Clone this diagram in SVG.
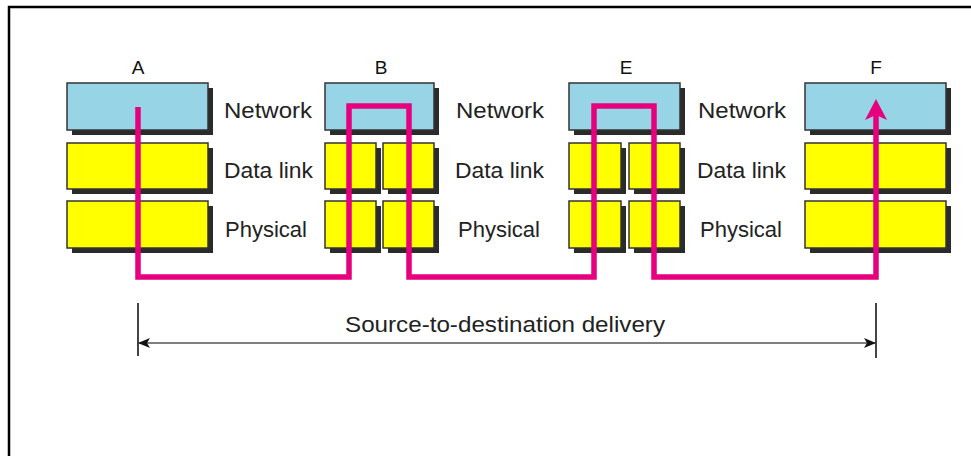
<svg xmlns="http://www.w3.org/2000/svg" width="971" height="456" viewBox="0 0 971 456">
<style>
.sh{fill:#2b2b2b}
.net{fill:#97d5e6;stroke:#333;stroke-width:1.5}
.yel{fill:#ffff00;stroke:#333;stroke-width:1.5}
.lbl{font-family:"Liberation Sans",Arial,sans-serif;font-size:22px;fill:#222}
.ttl{font-family:"Liberation Sans",Arial,sans-serif;font-size:19px;fill:#111;text-anchor:middle}
</style>
<defs>
<marker id="ah" markerWidth="12" markerHeight="10" refX="11" refY="5" orient="auto-start-reverse" markerUnits="userSpaceOnUse">
<path d="M0,0 L12,5 L0,10 L3,5 Z" fill="#111"/>
</marker>
</defs>
<rect width="971" height="456" fill="#fff"/>
<path d="M9,456 V7 H971" fill="none" stroke="#000" stroke-width="2.5"/>

<g id="nodeA">
<text class="ttl" x="138" y="74">A</text>
<rect class="sh" x="72" y="88" width="141" height="47"/>
<rect class="net" x="67" y="83" width="141" height="47"/>
<rect class="sh" x="72" y="148" width="141" height="46"/>
<rect class="yel" x="67" y="143" width="141" height="46"/>
<rect class="sh" x="72" y="206" width="141" height="47"/>
<rect class="yel" x="67" y="201" width="141" height="47"/>
</g>

<g id="nodeB">
<text class="ttl" x="381" y="74">B</text>
<rect class="sh" x="330" y="88" width="109" height="47"/>
<rect class="net" x="325" y="83" width="109" height="47"/>
<rect class="sh" x="330" y="148" width="51" height="46"/>
<rect class="yel" x="325" y="143" width="51" height="46"/>
<rect class="sh" x="388" y="148" width="51" height="46"/>
<rect class="yel" x="383" y="143" width="51" height="46"/>
<rect class="sh" x="330" y="206" width="51" height="47"/>
<rect class="yel" x="325" y="201" width="51" height="47"/>
<rect class="sh" x="388" y="206" width="51" height="47"/>
<rect class="yel" x="383" y="201" width="51" height="47"/>
</g>

<g id="nodeE">
<text class="ttl" x="626" y="74">E</text>
<rect class="sh" x="574" y="88" width="111" height="47"/>
<rect class="net" x="569" y="83" width="111" height="47"/>
<rect class="sh" x="574" y="148" width="52" height="46"/>
<rect class="yel" x="569" y="143" width="52" height="46"/>
<rect class="sh" x="634" y="148" width="51" height="46"/>
<rect class="yel" x="629" y="143" width="51" height="46"/>
<rect class="sh" x="574" y="206" width="52" height="47"/>
<rect class="yel" x="569" y="201" width="52" height="47"/>
<rect class="sh" x="634" y="206" width="51" height="47"/>
<rect class="yel" x="629" y="201" width="51" height="47"/>
</g>

<g id="nodeF">
<text class="ttl" x="876" y="74">F</text>
<rect class="sh" x="810" y="88" width="141" height="47"/>
<rect class="net" x="805" y="83" width="141" height="47"/>
<rect class="sh" x="810" y="148" width="141" height="46"/>
<rect class="yel" x="805" y="143" width="141" height="46"/>
<rect class="sh" x="810" y="206" width="141" height="47"/>
<rect class="yel" x="805" y="201" width="141" height="47"/>
</g>

<g id="layer-labels">
<text class="lbl" x="224" y="118" textLength="88" lengthAdjust="spacingAndGlyphs">Network</text>
<text class="lbl" x="224" y="178" textLength="89" lengthAdjust="spacingAndGlyphs">Data link</text>
<text class="lbl" x="225" y="237" textLength="82" lengthAdjust="spacingAndGlyphs">Physical</text>
<text class="lbl" x="456" y="118" textLength="88" lengthAdjust="spacingAndGlyphs">Network</text>
<text class="lbl" x="455" y="178" textLength="89" lengthAdjust="spacingAndGlyphs">Data link</text>
<text class="lbl" x="458" y="237" textLength="82" lengthAdjust="spacingAndGlyphs">Physical</text>
<text class="lbl" x="698" y="118" textLength="88" lengthAdjust="spacingAndGlyphs">Network</text>
<text class="lbl" x="697" y="178" textLength="89" lengthAdjust="spacingAndGlyphs">Data link</text>
<text class="lbl" x="700" y="237" textLength="82" lengthAdjust="spacingAndGlyphs">Physical</text>
</g>

<g id="connectors">
<path d="M138,107 V277 H349 V106 H409 V277 H594 V106 H654 V277 H876 V114" fill="none" stroke="#e6007e" stroke-width="5.5" stroke-linejoin="miter"/>
<path d="M876,99 L887,120 L876,115 L865,120 Z" fill="#e6007e"/>
<line x1="138" y1="303" x2="138" y2="356" stroke="#444" stroke-width="2"/>
<line x1="876" y1="303" x2="876" y2="358" stroke="#444" stroke-width="2"/>
<line x1="139" y1="343" x2="875" y2="343" stroke="#555" stroke-width="1.5" marker-start="url(#ah)" marker-end="url(#ah)"/>
<text class="lbl" x="345" y="332" textLength="320" lengthAdjust="spacingAndGlyphs">Source-to-destination delivery</text>
</g>
</svg>
